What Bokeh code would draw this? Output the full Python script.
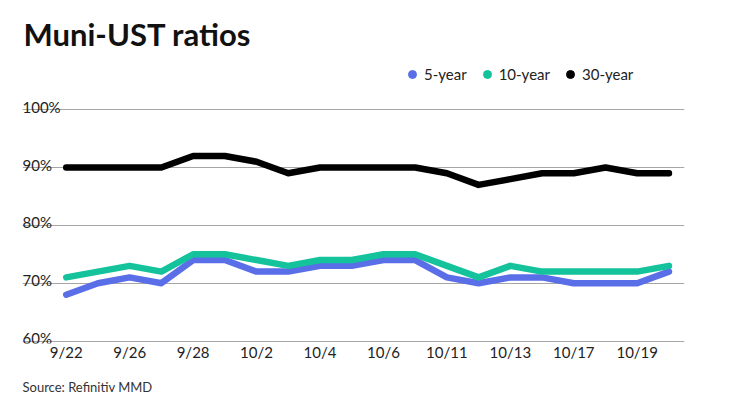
from bokeh.plotting import figure
from bokeh.models import Range1d, FixedTicker, Label, Legend, LegendItem, Title
from bokeh.embed import file_html
from bokeh.resources import INLINE
from bokeh.core.properties import value

# ---- data ----
dates = ["9/22", "9/25", "9/26", "9/27", "9/28", "9/29", "10/2", "10/3", "10/4", "10/5",
         "10/6", "10/10", "10/11", "10/12", "10/13", "10/16", "10/17", "10/18", "10/19", "10/20"]
five_year = [68, 70, 71, 70, 74, 74, 72, 72, 73, 73, 74, 74, 71, 70, 71, 71, 70, 70, 70, 72]
ten_year = [71, 72, 73, 72, 75, 75, 74, 73, 74, 74, 75, 75, 73, 71, 73, 72, 72, 72, 72, 73]
thirty_year = [90, 90, 90, 90, 92, 92, 91, 89, 90, 90, 90, 90, 89, 87, 88, 89, 89, 90, 89, 89]
y_ticks = [60, 70, 80, 90, 100]
y_tick_labels = ["60%", "70%", "80%", "90%", "100%"]
x_tick_idx = list(range(0, 20, 2))
series_names = ["5-year", "10-year", "30-year"]
colors = ["#5a6ee8", "#14c29b", "#000000"]

x = list(range(len(dates)))
XMIN, XMAX = -1.378, 19.49
YMIN, YMAX = 59.57, 117.5

p = figure(width=724, height=410, output_backend="svg", toolbar_location=None,
           x_range=Range1d(XMIN, XMAX), y_range=Range1d(YMIN, YMAX),
           y_axis_location=None,
           min_border_left=22, min_border_right=40, min_border_top=8, min_border_bottom=67)
p.outline_line_color = None
p.background_fill_color = "white"
p.border_fill_color = "white"

p.xgrid.visible = False
p.ygrid.ticker = FixedTicker(ticks=y_ticks)
p.ygrid.grid_line_color = "#a6a6a6"
p.ygrid.grid_line_width = 1

# x axis
p.xaxis.ticker = FixedTicker(ticks=x_tick_idx)
p.xaxis.major_label_overrides = {i: dates[i] for i in x_tick_idx}
p.xaxis.axis_line_color = None
p.xaxis.major_tick_line_color = None
p.xaxis.minor_tick_line_color = None
p.xaxis.major_tick_out = 0
p.xaxis.major_tick_in = 0
p.xaxis.major_label_standoff = -1
p.xaxis.major_label_text_font = "Lato"
p.xaxis.major_label_text_font_size = "15px"
p.xaxis.major_label_text_color = "#222222"

# y tick labels drawn above grid lines
p.text(x=[XMIN] * len(y_ticks), y=y_ticks, text=y_tick_labels,
       text_font=value("Lato"), text_font_size="15px", text_color="#222222",
       text_align="left", text_baseline="alphabetic", x_offset=0, y_offset=-3)

# legend dots (hidden under the round line ends) + lines
items = []
for name, vals, c in zip(series_names, [five_year, ten_year, thirty_year], colors):
    r = p.scatter(x=[x[-1]], y=[vals[-1]], size=5, fill_color=c, line_color=c)
    items.append(LegendItem(label=name, renderers=[r]))
for vals, c in zip([five_year, ten_year, thirty_year], colors):
    p.line(x, vals, line_width=6.5, line_color=c, line_cap="round", line_join="round")

legend = Legend(items=items, orientation="horizontal", location=(380, 259),
                glyph_width=20, glyph_height=20, label_standoff=2, spacing=10,
                padding=0, margin=0, background_fill_alpha=0, border_line_alpha=0,
                label_text_font="Lato", label_text_font_size="15px",
                label_text_color="#222222")
p.add_layout(legend)

# title
p.add_layout(Label(x=1, y=309.3, x_units="screen", y_units="screen",
                   text="Muni-UST ratios", text_font="Lato", text_font_style="bold",
                   text_font_size="31px", text_baseline="alphabetic", text_color="#111111"))
# source
p.add_layout(Title(text="Source: Refinitiv MMD", align="left", text_font="Lato",
                   text_font_size="13px", text_font_style="normal", text_color="#333333",
                   standoff=27, offset=0), "below")

open("out.html", "w").write(file_html(p, INLINE))
